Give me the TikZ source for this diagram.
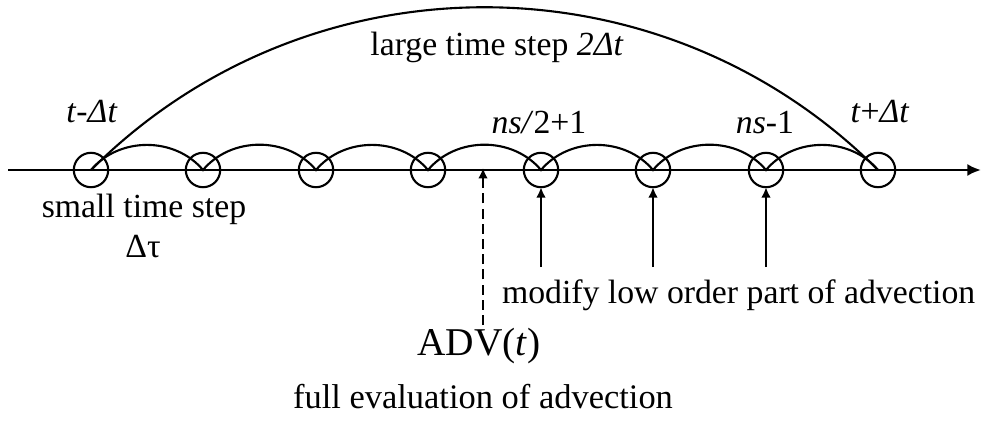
\documentclass[tikz,border=0pt]{standalone}
\usepackage{fontspec}
\setmainfont{Liberation Serif}
\usetikzlibrary{arrows.meta}

\begin{document}
\begin{tikzpicture}[x=0.025cm, y=-0.025cm, outer sep=0pt, line width=1.5pt, font=\fontsize{24}{28}\selectfont]

\tikzstyle{stepcircle}=[draw, circle, minimum size=0.86cm, inner sep=0pt]
\tikzstyle{txt}=[inner sep=0pt, anchor=base]
\tikzstyle{uparrow}=[-{Latex[length=0.26cm, width=0.24cm]}]

\useasboundingbox (0,0) rectangle (981,430);

% time axis
\coordinate (axisstart) at (8,170); \coordinate (axisend) at (981,170);
\draw[-{Latex[length=0.34cm, width=0.3cm]}, line width=1.8pt] (axisstart) -- (axisend);

% small steps
\node[stepcircle] (c1) at (91,170) {}; \node[stepcircle] (c2) at (203,170) {}; \node[stepcircle] (c3) at (316,170) {}; \node[stepcircle] (c4) at (428,170) {};
\node[stepcircle] (c5) at (541,170) {}; \node[stepcircle] (c6) at (653,170) {}; \node[stepcircle] (c7) at (766,170) {}; \node[stepcircle] (c8) at (878,170) {};

\draw (c1.center) to[out=50, in=130] (c2.center) to[out=50, in=130] (c3.center) to[out=50, in=130] (c4.center)
  to[out=50, in=130] (c5.center) to[out=50, in=130] (c6.center) to[out=50, in=130] (c7.center) to[out=50, in=130] (c8.center);

% large step
\draw (c1.center) to[out=45, in=135] (c8.center);

\node[txt] (tprev) at (92,122) {\textit{t}-\textit{Δt}};
\node[txt] (tnext) at (880,122) {\textit{t}+\textit{Δt}};
\node[txt] (large) at (497,55) {large time step \textit{2Δt}};
\node[txt] (half) at (539,133) {\textit{ns/}2+1};
\node[txt] (nsm) at (765,133) {\textit{ns}-1};
\node[txt] (small) at (144,217) {small time step};
\node[txt] (dtau) at (143,257) {Δτ};

% advection calls
\coordinate (advpt) at (483,168); \coordinate (advfoot) at (483,325);
\draw[uparrow, dash pattern=on 0.25cm off 0.13cm] (advfoot) -- (advpt);
\coordinate (m5) at (541,267); \coordinate (m6) at (653,267); \coordinate (m7) at (766,267);
\draw[uparrow] (m5) -- (c5.south); \draw[uparrow] (m6) -- (c6.south); \draw[uparrow] (m7) -- (c7.south);

\node[txt, anchor=base west] (modify) at (502,303) {modify low order part of advection};
\node[txt, font=\fontsize{28}{32}\selectfont] (adv) at (479,355) {ADV(\textit{t})};
\node[txt, font=\fontsize{24.5}{28}\selectfont] (full) at (483,408) {full evaluation of advection};

\end{tikzpicture}
\end{document}
